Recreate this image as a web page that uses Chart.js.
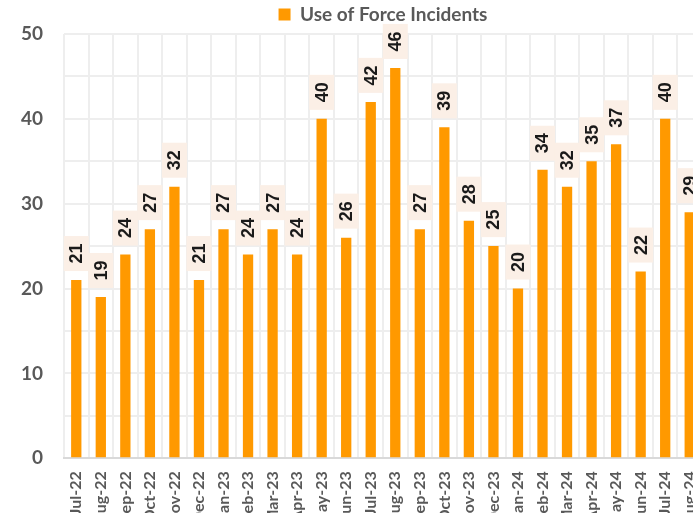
<!DOCTYPE html>
<html>
<head>
<meta charset="utf-8">
<script src="https://cdn.jsdelivr.net/npm/chart.js@4"></script>
<style>
  html, body { margin: 0; padding: 0; background: #fff; overflow: hidden; }
</style>
</head>
<body>
<canvas id="grafico" width="766" height="540"></canvas>
<script>
// meses e valores
var meses = ["Jul-22","Aug-22","Sep-22","Oct-22","Nov-22","Dec-22","Jan-23","Feb-23","Mar-23","Apr-23","May-23","Jun-23","Jul-23","Aug-23","Sep-23","Oct-23","Nov-23","Dec-23","Jan-24","Feb-24","Mar-24","Apr-24","May-24","Jun-24","Jul-24","Aug-24"];
var incidentes = [21,19,24,27,32,21,27,24,27,24,40,26,42,46,27,39,28,25,20,34,32,35,37,22,40,29];
var serieNome = "Use of Force Incidents";
var yMin = 0, yMax = 50;

// rotulos verticais em cima das barras (caixinha clara)
var rotulos = {
  id: 'rotulos',
  afterDatasetsDraw: function(chart) {
    var c = chart.ctx;
    var meta = chart.getDatasetMeta(0);
    meta.data.forEach(function(bar, i) {
      var w = 25, h = 35, gap = 9;
      var x = bar.x, y = bar.y - gap;
      c.save();
      c.fillStyle = '#fbefe6';
      c.fillRect(x - w / 2, y - h, w, h);
      // gira -90 graus em volta do centro da caixa
      c.setTransform(0, -1, 1, 0, x + 1, y - h / 2);
      c.fillStyle = '#1a1a1a';
      c.font = 'bold 18px "Liberation Sans"';
      c.textAlign = 'center';
      c.textBaseline = 'middle';
      c.fillText(String(incidentes[i]), 0, 0);
      c.restore();
    });
  }
};

var ctx = document.getElementById('grafico');
var chartGraph = new Chart(ctx, {
  type: 'bar',
  data: {
    labels: meses,
    datasets: [{
      label: serieNome,
      data: incidentes,
      backgroundColor: '#ff9900',
      borderWidth: 0,
      barPercentage: 0.42,
      categoryPercentage: 1
    }]
  },
  options: {
    responsive: false,
    animation: false,
    layout: { padding: { left: 0, right: 0, top: 0, bottom: 0 } },
    plugins: {
      legend: {
        labels: {
          boxWidth: 12,
          boxHeight: 12,
          color: '#595959',
          font: { family: 'Lato', size: 19, weight: 'bold' },
          padding: 5
        }
      },
      tooltip: { enabled: false }
    },
    scales: {
      x: {
        grid: { color: '#eeeeee', lineWidth: 2, drawTicks: false },
        border: { color: '#d9d9d9', width: 2 },
        ticks: {
          minRotation: 90,
          maxRotation: 90,
          padding: 13,
          color: '#595959',
          font: { family: 'Lato', size: 16, weight: 'bold' }
        }
      },
      y: {
        min: yMin,
        max: yMax,
        grid: { color: '#eeeeee', lineWidth: 2, drawTicks: false },
        border: { display: false },
        afterFit: function(s) { s.width = 64; },
        ticks: {
          stepSize: 2.5,
          padding: 21,
          color: '#595959',
          font: { family: 'Lato', size: 19, weight: 'bold' },
          callback: function(v) { return v % 10 === 0 ? v : ''; }
        }
      },
      // eixo vazio so pra reservar espaco na direita
      y2: {
        position: 'right',
        display: true,
        grid: { display: false },
        border: { display: false },
        ticks: { display: false },
        afterFit: function(s) { s.width = 64; }
      }
    }
  },
  plugins: [rotulos]
});
</script>
</body>
</html>
